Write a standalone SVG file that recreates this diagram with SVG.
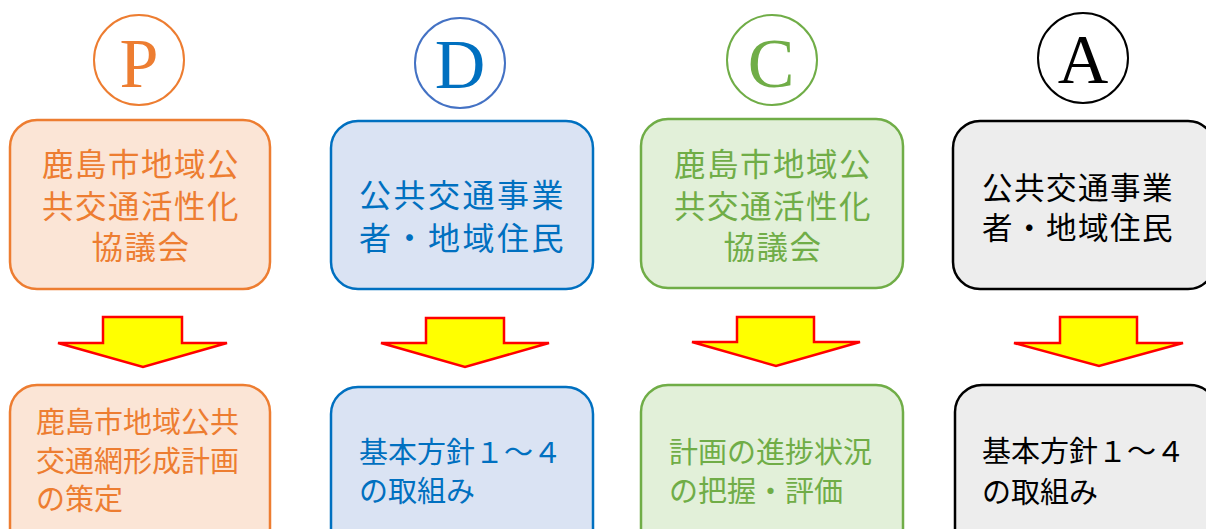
<svg xmlns="http://www.w3.org/2000/svg" width="1206" height="529" viewBox="0 0 1206 529">
<style>
.jp{font-family:"Noto Sans CJK JP","Noto Sans",sans-serif;}
.let{font-family:"Liberation Serif","Times New Roman",serif;font-size:70px;text-anchor:middle;}
.circ{fill:#FFFFFF;stroke-width:2;}
.box{stroke-width:2.5;}
.arrow{fill:#FFFF00;stroke:#FF0000;stroke-width:2.5;stroke-linejoin:miter;}
.o{fill:#FBE5D6;stroke:#ED7D31;}
.b{fill:#DAE3F3;stroke:#0070C0;}
.g{fill:#E2F0D9;stroke:#70AD47;}
.k{fill:#EDEDED;stroke:#000000;}
.to{fill:#ED7D31;}
.tb{fill:#0070C0;}
.tg{fill:#70AD47;}
.tk{fill:#000000;}
.t3{font-size:31.5px;letter-spacing:1.5px;}
.td{font-size:32px;letter-spacing:2.5px;}
.ta{font-size:30.5px;letter-spacing:1.5px;}
.t29{font-size:29px;}
</style>
<rect width="1206" height="529" fill="#FFFFFF"/>

<g id="label-P">
<circle class="circ" cx="139" cy="60" r="45" stroke="#ED7D31"/>
<text class="let to" x="139" y="87">P</text>
</g>
<g id="label-D">
<circle class="circ" cx="460" cy="63" r="45" stroke="#4472C4"/>
<text class="let tb" x="460" y="88">D</text>
</g>
<g id="label-C">
<circle class="circ" cx="772" cy="60" r="45" stroke="#70AD47"/>
<text class="let tg" x="771" y="87">C</text>
</g>
<g id="label-A">
<circle class="circ" cx="1083" cy="58" r="45" stroke="#000000"/>
<text class="let tk" x="1083" y="83">A</text>
</g>

<g id="node-P-actor">
<rect class="box o" x="10" y="120" width="260" height="169" rx="27"/>
<text class="jp t3 to" text-anchor="middle"><tspan x="141" y="176">鹿島市地域公</tspan><tspan x="141" y="217.5">共交通活性化</tspan><tspan x="141" y="259">協議会</tspan></text>
</g>
<g id="node-D-actor">
<rect class="box b" x="331" y="121" width="262" height="168" rx="27"/>
<text class="jp td tb"><tspan x="359" y="207">公共交通事業</tspan><tspan x="359" y="250">者・地域住民</tspan></text>
</g>
<g id="node-C-actor">
<rect class="box g" x="641" y="119" width="262" height="169" rx="27"/>
<text class="jp t3 tg" text-anchor="middle"><tspan x="773" y="176">鹿島市地域公</tspan><tspan x="773" y="217.5">共交通活性化</tspan><tspan x="773" y="259">協議会</tspan></text>
</g>
<g id="node-A-actor">
<rect class="box k" x="953" y="121" width="262" height="168" rx="27"/>
<text class="jp ta tk"><tspan x="982" y="199">公共交通事業</tspan><tspan x="982" y="239">者・地域住民</tspan></text>
</g>

<g id="connectors">
<polygon class="arrow" points="103,317 182,317 182,343 227,343 143,367 58,343 103,343"/>
<polygon class="arrow" points="426,318 504,318 504,343 549,343 465,367 381,343 426,343"/>
<polygon class="arrow" points="737,317 814,317 814,342 860,342 776,366 692,342 737,342"/>
<polygon class="arrow" points="1060,317 1137,317 1137,343 1183,343 1099,366 1014,343 1060,343"/>
</g>

<g id="node-P-action">
<rect class="box o" x="10" y="385" width="260" height="170" rx="27"/>
<text class="jp t29 to"><tspan x="36" y="433">鹿島市地域公共</tspan><tspan x="36" y="472">交通網形成計画</tspan><tspan x="36" y="510">の策定</tspan></text>
</g>
<g id="node-D-action">
<rect class="box b" x="331" y="387" width="262" height="170" rx="27"/>
<text class="jp t29 tb"><tspan x="359" y="463">基本方針１～４</tspan><tspan x="359" y="502">の取組み</tspan></text>
</g>
<g id="node-C-action">
<rect class="box g" x="641" y="385" width="262" height="170" rx="27"/>
<text class="jp t29 tg"><tspan x="669" y="463">計画の進捗状況</tspan><tspan x="669" y="502">の把握・評価</tspan></text>
</g>
<g id="node-A-action">
<rect class="box k" x="955" y="385" width="262" height="170" rx="27"/>
<text class="jp t29 tk"><tspan x="982" y="462">基本方針１～４</tspan><tspan x="982" y="503">の取組み</tspan></text>
</g>
</svg>
